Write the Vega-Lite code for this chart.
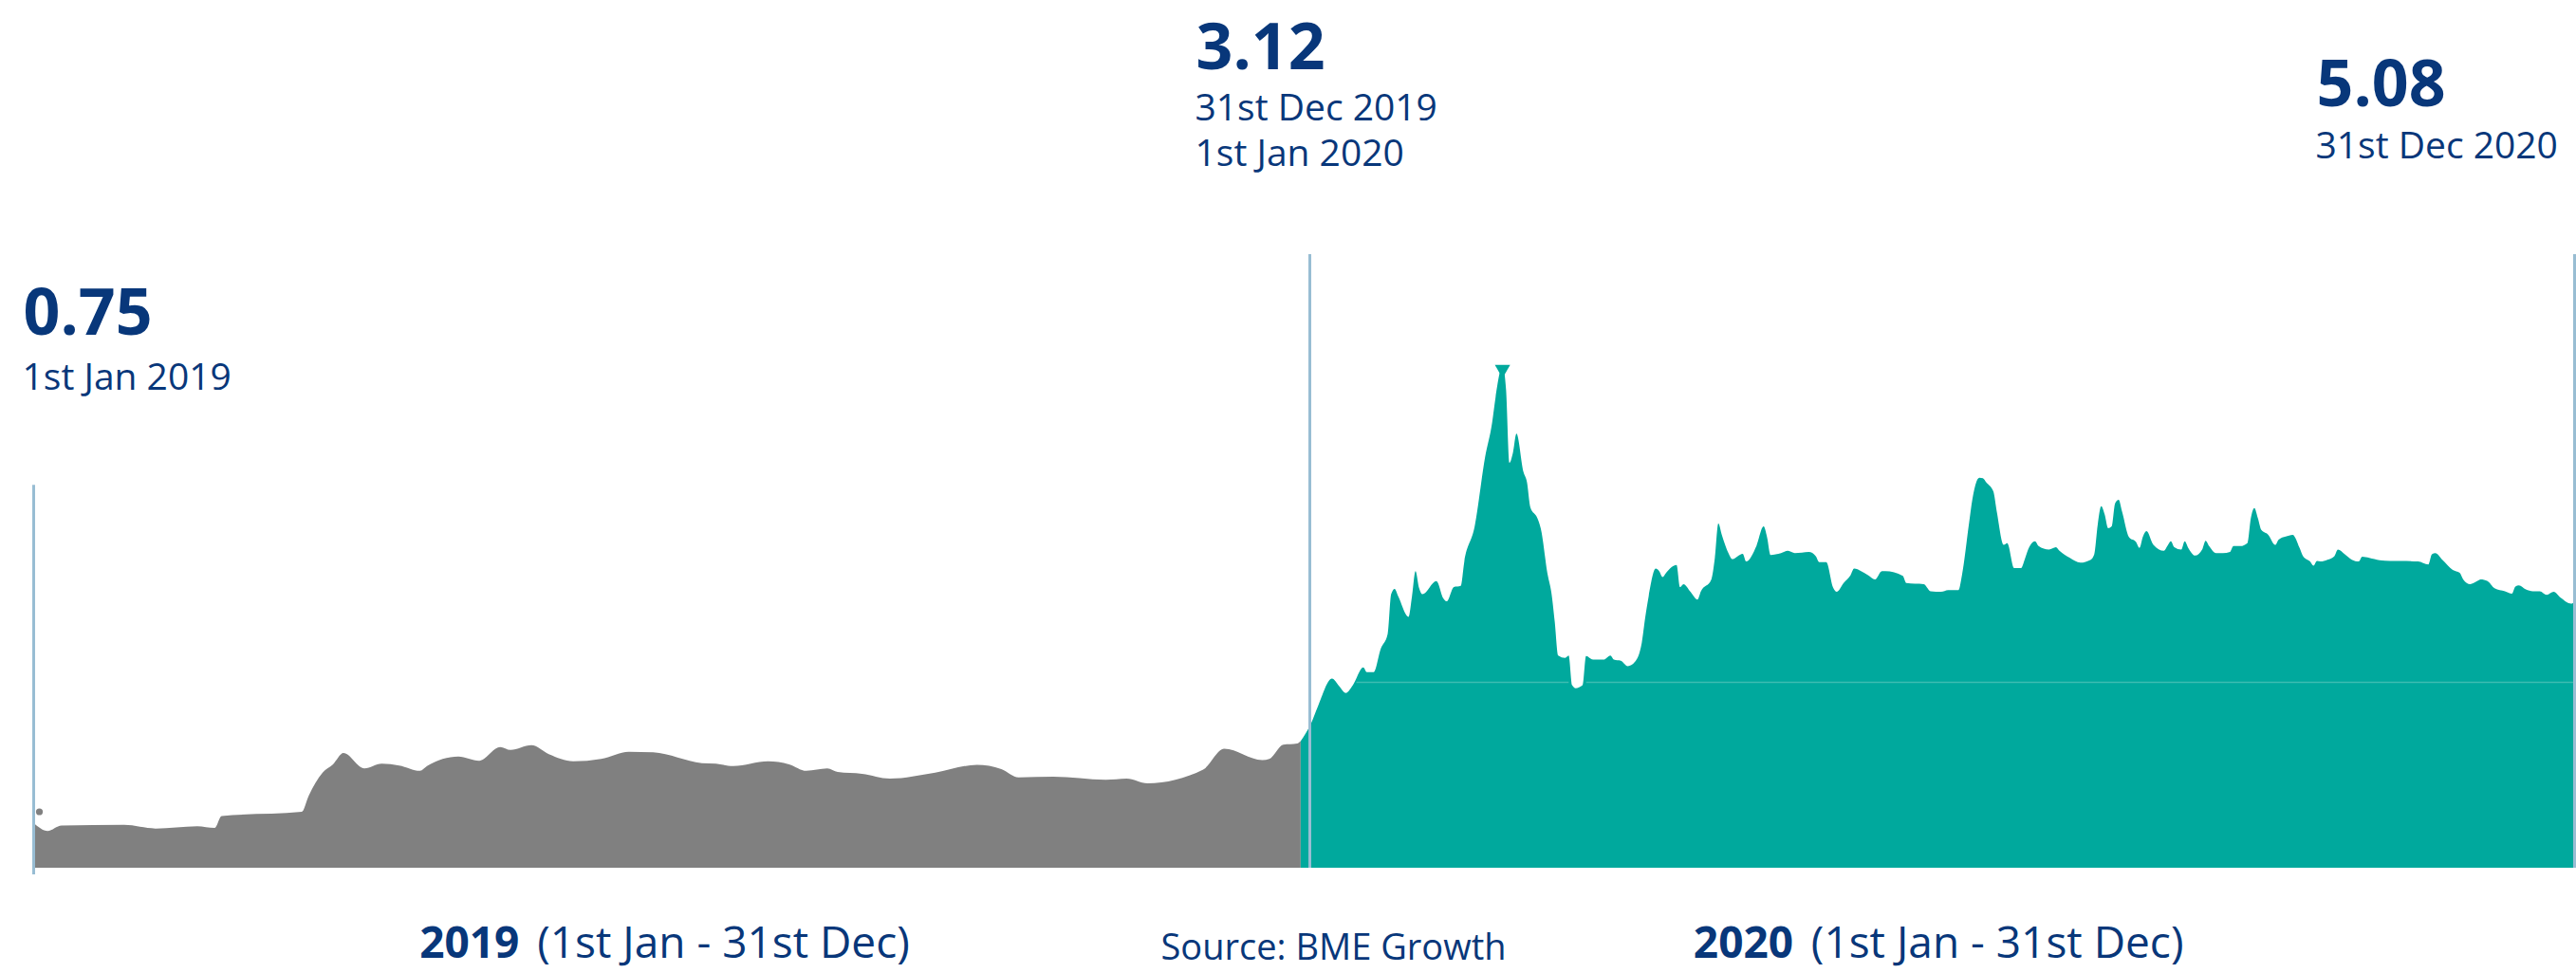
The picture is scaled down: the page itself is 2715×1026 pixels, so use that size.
{
  "$schema": "https://vega.github.io/schema/vega-lite/v6.json",
  "width": 2715,
  "height": 1026,
  "autosize": {"type": "fit", "contains": "padding"},
  "padding": 0,
  "background": "white",
  "config": {"view": {"stroke": null}},
  "datasets": {
    "prices": [
      {"date": "2019-01-01", "price": 0.75, "period": "2019"},
      {"date": "2019-01-05", "price": 0.62, "period": "2019"},
      {"date": "2019-01-09", "price": 0.71, "period": "2019"},
      {"date": "2019-01-27", "price": 0.72, "period": "2019"},
      {"date": "2019-02-05", "price": 0.66, "period": "2019"},
      {"date": "2019-02-17", "price": 0.70, "period": "2019"},
      {"date": "2019-02-22", "price": 0.67, "period": "2019"},
      {"date": "2019-02-24", "price": 0.87, "period": "2019"},
      {"date": "2019-03-19", "price": 0.94, "period": "2019"},
      {"date": "2019-03-21", "price": 1.21, "period": "2019"},
      {"date": "2019-03-25", "price": 1.60, "period": "2019"},
      {"date": "2019-03-28", "price": 1.74, "period": "2019"},
      {"date": "2019-03-31", "price": 1.93, "period": "2019"},
      {"date": "2019-04-06", "price": 1.67, "period": "2019"},
      {"date": "2019-04-11", "price": 1.75, "period": "2019"},
      {"date": "2019-04-16", "price": 1.72, "period": "2019"},
      {"date": "2019-04-22", "price": 1.63, "period": "2019"},
      {"date": "2019-04-24", "price": 1.71, "period": "2019"},
      {"date": "2019-05-03", "price": 1.87, "period": "2019"},
      {"date": "2019-05-09", "price": 1.80, "period": "2019"},
      {"date": "2019-05-15", "price": 2.03, "period": "2019"},
      {"date": "2019-05-18", "price": 1.98, "period": "2019"},
      {"date": "2019-05-24", "price": 2.06, "period": "2019"},
      {"date": "2019-05-29", "price": 1.91, "period": "2019"},
      {"date": "2019-06-05", "price": 1.79, "period": "2019"},
      {"date": "2019-06-13", "price": 1.83, "period": "2019"},
      {"date": "2019-06-21", "price": 1.95, "period": "2019"},
      {"date": "2019-06-28", "price": 1.94, "period": "2019"},
      {"date": "2019-07-12", "price": 1.76, "period": "2019"},
      {"date": "2019-07-16", "price": 1.75, "period": "2019"},
      {"date": "2019-07-21", "price": 1.71, "period": "2019"},
      {"date": "2019-07-31", "price": 1.79, "period": "2019"},
      {"date": "2019-08-06", "price": 1.74, "period": "2019"},
      {"date": "2019-08-11", "price": 1.63, "period": "2019"},
      {"date": "2019-08-17", "price": 1.67, "period": "2019"},
      {"date": "2019-08-20", "price": 1.61, "period": "2019"},
      {"date": "2019-08-27", "price": 1.58, "period": "2019"},
      {"date": "2019-09-04", "price": 1.50, "period": "2019"},
      {"date": "2019-09-17", "price": 1.60, "period": "2019"},
      {"date": "2019-09-29", "price": 1.73, "period": "2019"},
      {"date": "2019-10-06", "price": 1.66, "period": "2019"},
      {"date": "2019-10-11", "price": 1.52, "period": "2019"},
      {"date": "2019-10-21", "price": 1.53, "period": "2019"},
      {"date": "2019-11-05", "price": 1.48, "period": "2019"},
      {"date": "2019-11-11", "price": 1.50, "period": "2019"},
      {"date": "2019-11-17", "price": 1.42, "period": "2019"},
      {"date": "2019-12-03", "price": 1.65, "period": "2019"},
      {"date": "2019-12-09", "price": 2.00, "period": "2019"},
      {"date": "2019-12-20", "price": 1.81, "period": "2019"},
      {"date": "2019-12-22", "price": 1.83, "period": "2019"},
      {"date": "2019-12-26", "price": 2.07, "period": "2019"},
      {"date": "2019-12-30", "price": 2.09, "period": "2019"},
      {"date": "2019-12-31", "price": 2.13, "period": "2019"},
      {"date": "2019-12-31", "price": 2.13, "period": "2020"},
      {"date": "2020-01-03", "price": 2.43, "period": "2020"},
      {"date": "2020-01-05", "price": 2.72, "period": "2020"},
      {"date": "2020-01-09", "price": 3.18, "period": "2020"},
      {"date": "2020-01-11", "price": 3.06, "period": "2020"},
      {"date": "2020-01-13", "price": 2.94, "period": "2020"},
      {"date": "2020-01-15", "price": 3.07, "period": "2020"},
      {"date": "2020-01-18", "price": 3.37, "period": "2020"},
      {"date": "2020-01-19", "price": 3.29, "period": "2020"},
      {"date": "2020-01-21", "price": 3.29, "period": "2020"},
      {"date": "2020-01-23", "price": 3.68, "period": "2020"},
      {"date": "2020-01-25", "price": 3.93, "period": "2020"},
      {"date": "2020-01-26", "price": 4.60, "period": "2020"},
      {"date": "2020-01-27", "price": 4.69, "period": "2020"},
      {"date": "2020-01-28", "price": 4.57, "period": "2020"},
      {"date": "2020-01-31", "price": 4.22, "period": "2020"},
      {"date": "2020-02-01", "price": 4.57, "period": "2020"},
      {"date": "2020-02-02", "price": 4.99, "period": "2020"},
      {"date": "2020-02-03", "price": 4.71, "period": "2020"},
      {"date": "2020-02-04", "price": 4.60, "period": "2020"},
      {"date": "2020-02-08", "price": 4.82, "period": "2020"},
      {"date": "2020-02-10", "price": 4.53, "period": "2020"},
      {"date": "2020-02-11", "price": 4.48, "period": "2020"},
      {"date": "2020-02-13", "price": 4.72, "period": "2020"},
      {"date": "2020-02-15", "price": 4.74, "period": "2020"},
      {"date": "2020-02-16", "price": 5.14, "period": "2020"},
      {"date": "2020-02-19", "price": 5.74, "period": "2020"},
      {"date": "2020-02-22", "price": 6.91, "period": "2020"},
      {"date": "2020-02-24", "price": 7.48, "period": "2020"},
      {"date": "2020-02-25", "price": 7.91, "period": "2020"},
      {"date": "2020-02-27", "price": 8.44, "period": "2020"},
      {"date": "2020-02-28", "price": 8.05, "period": "2020"},
      {"date": "2020-02-29", "price": 6.81, "period": "2020"},
      {"date": "2020-03-01", "price": 6.98, "period": "2020"},
      {"date": "2020-03-02", "price": 7.30, "period": "2020"},
      {"date": "2020-03-04", "price": 6.66, "period": "2020"},
      {"date": "2020-03-05", "price": 6.49, "period": "2020"},
      {"date": "2020-03-06", "price": 6.06, "period": "2020"},
      {"date": "2020-03-08", "price": 5.88, "period": "2020"},
      {"date": "2020-03-09", "price": 5.70, "period": "2020"},
      {"date": "2020-03-11", "price": 4.92, "period": "2020"},
      {"date": "2020-03-12", "price": 4.64, "period": "2020"},
      {"date": "2020-03-13", "price": 4.14, "period": "2020"},
      {"date": "2020-03-14", "price": 3.57, "period": "2020"},
      {"date": "2020-03-16", "price": 3.53, "period": "2020"},
      {"date": "2020-03-17", "price": 3.57, "period": "2020"},
      {"date": "2020-03-18", "price": 3.07, "period": "2020"},
      {"date": "2020-03-19", "price": 3.02, "period": "2020"},
      {"date": "2020-03-21", "price": 3.07, "period": "2020"},
      {"date": "2020-03-22", "price": 3.56, "period": "2020"},
      {"date": "2020-03-24", "price": 3.50, "period": "2020"},
      {"date": "2020-03-27", "price": 3.50, "period": "2020"},
      {"date": "2020-03-29", "price": 3.57, "period": "2020"},
      {"date": "2020-03-30", "price": 3.50, "period": "2020"},
      {"date": "2020-04-01", "price": 3.48, "period": "2020"},
      {"date": "2020-04-03", "price": 3.39, "period": "2020"},
      {"date": "2020-04-05", "price": 3.46, "period": "2020"},
      {"date": "2020-04-07", "price": 3.78, "period": "2020"},
      {"date": "2020-04-08", "price": 4.21, "period": "2020"},
      {"date": "2020-04-09", "price": 4.57, "period": "2020"},
      {"date": "2020-04-11", "price": 5.03, "period": "2020"},
      {"date": "2020-04-12", "price": 4.99, "period": "2020"},
      {"date": "2020-04-13", "price": 4.89, "period": "2020"},
      {"date": "2020-04-14", "price": 4.96, "period": "2020"},
      {"date": "2020-04-17", "price": 5.09, "period": "2020"},
      {"date": "2020-04-18", "price": 4.72, "period": "2020"},
      {"date": "2020-04-19", "price": 4.77, "period": "2020"},
      {"date": "2020-04-21", "price": 4.64, "period": "2020"},
      {"date": "2020-04-23", "price": 4.51, "period": "2020"},
      {"date": "2020-04-24", "price": 4.65, "period": "2020"},
      {"date": "2020-04-27", "price": 4.85, "period": "2020"},
      {"date": "2020-04-28", "price": 5.21, "period": "2020"},
      {"date": "2020-04-29", "price": 5.79, "period": "2020"},
      {"date": "2020-04-30", "price": 5.60, "period": "2020"},
      {"date": "2020-05-02", "price": 5.28, "period": "2020"},
      {"date": "2020-05-03", "price": 5.19, "period": "2020"},
      {"date": "2020-05-06", "price": 5.28, "period": "2020"},
      {"date": "2020-05-07", "price": 5.15, "period": "2020"},
      {"date": "2020-05-10", "price": 5.42, "period": "2020"},
      {"date": "2020-05-12", "price": 5.74, "period": "2020"},
      {"date": "2020-05-13", "price": 5.56, "period": "2020"},
      {"date": "2020-05-14", "price": 5.26, "period": "2020"},
      {"date": "2020-05-17", "price": 5.29, "period": "2020"},
      {"date": "2020-05-19", "price": 5.33, "period": "2020"},
      {"date": "2020-05-21", "price": 5.29, "period": "2020"},
      {"date": "2020-05-25", "price": 5.31, "period": "2020"},
      {"date": "2020-05-27", "price": 5.24, "period": "2020"},
      {"date": "2020-05-28", "price": 5.14, "period": "2020"},
      {"date": "2020-05-30", "price": 5.14, "period": "2020"},
      {"date": "2020-06-01", "price": 4.71, "period": "2020"},
      {"date": "2020-06-02", "price": 4.64, "period": "2020"},
      {"date": "2020-06-04", "price": 4.79, "period": "2020"},
      {"date": "2020-06-06", "price": 4.92, "period": "2020"},
      {"date": "2020-06-07", "price": 5.03, "period": "2020"},
      {"date": "2020-06-09", "price": 4.99, "period": "2020"},
      {"date": "2020-06-11", "price": 4.92, "period": "2020"},
      {"date": "2020-06-13", "price": 4.85, "period": "2020"},
      {"date": "2020-06-15", "price": 4.99, "period": "2020"},
      {"date": "2020-06-16", "price": 4.99, "period": "2020"},
      {"date": "2020-06-21", "price": 4.91, "period": "2020"},
      {"date": "2020-06-22", "price": 4.79, "period": "2020"},
      {"date": "2020-06-27", "price": 4.77, "period": "2020"},
      {"date": "2020-06-29", "price": 4.65, "period": "2020"},
      {"date": "2020-07-02", "price": 4.64, "period": "2020"},
      {"date": "2020-07-04", "price": 4.67, "period": "2020"},
      {"date": "2020-07-07", "price": 4.67, "period": "2020"},
      {"date": "2020-07-08", "price": 4.92, "period": "2020"},
      {"date": "2020-07-10", "price": 5.78, "period": "2020"},
      {"date": "2020-07-11", "price": 6.20, "period": "2020"},
      {"date": "2020-07-13", "price": 6.56, "period": "2020"},
      {"date": "2020-07-14", "price": 6.55, "period": "2020"},
      {"date": "2020-07-15", "price": 6.48, "period": "2020"},
      {"date": "2020-07-17", "price": 6.33, "period": "2020"},
      {"date": "2020-07-18", "price": 5.99, "period": "2020"},
      {"date": "2020-07-20", "price": 5.43, "period": "2020"},
      {"date": "2020-07-21", "price": 5.46, "period": "2020"},
      {"date": "2020-07-23", "price": 5.04, "period": "2020"},
      {"date": "2020-07-25", "price": 5.04, "period": "2020"},
      {"date": "2020-07-26", "price": 5.18, "period": "2020"},
      {"date": "2020-07-27", "price": 5.35, "period": "2020"},
      {"date": "2020-07-29", "price": 5.49, "period": "2020"},
      {"date": "2020-07-30", "price": 5.41, "period": "2020"},
      {"date": "2020-08-02", "price": 5.35, "period": "2020"},
      {"date": "2020-08-04", "price": 5.39, "period": "2020"},
      {"date": "2020-08-05", "price": 5.33, "period": "2020"},
      {"date": "2020-08-08", "price": 5.21, "period": "2020"},
      {"date": "2020-08-11", "price": 5.13, "period": "2020"},
      {"date": "2020-08-14", "price": 5.18, "period": "2020"},
      {"date": "2020-08-15", "price": 5.27, "period": "2020"},
      {"date": "2020-08-16", "price": 5.77, "period": "2020"},
      {"date": "2020-08-17", "price": 6.08, "period": "2020"},
      {"date": "2020-08-18", "price": 5.94, "period": "2020"},
      {"date": "2020-08-19", "price": 5.71, "period": "2020"},
      {"date": "2020-08-20", "price": 5.74, "period": "2020"},
      {"date": "2020-08-21", "price": 6.13, "period": "2020"},
      {"date": "2020-08-22", "price": 6.19, "period": "2020"},
      {"date": "2020-08-23", "price": 5.99, "period": "2020"},
      {"date": "2020-08-25", "price": 5.56, "period": "2020"},
      {"date": "2020-08-27", "price": 5.48, "period": "2020"},
      {"date": "2020-08-28", "price": 5.38, "period": "2020"},
      {"date": "2020-08-29", "price": 5.57, "period": "2020"},
      {"date": "2020-08-30", "price": 5.66, "period": "2020"},
      {"date": "2020-09-01", "price": 5.43, "period": "2020"},
      {"date": "2020-09-04", "price": 5.33, "period": "2020"},
      {"date": "2020-09-05", "price": 5.41, "period": "2020"},
      {"date": "2020-09-06", "price": 5.49, "period": "2020"},
      {"date": "2020-09-07", "price": 5.39, "period": "2020"},
      {"date": "2020-09-09", "price": 5.35, "period": "2020"},
      {"date": "2020-09-10", "price": 5.49, "period": "2020"},
      {"date": "2020-09-11", "price": 5.38, "period": "2020"},
      {"date": "2020-09-13", "price": 5.25, "period": "2020"},
      {"date": "2020-09-15", "price": 5.35, "period": "2020"},
      {"date": "2020-09-16", "price": 5.50, "period": "2020"},
      {"date": "2020-09-17", "price": 5.41, "period": "2020"},
      {"date": "2020-09-19", "price": 5.29, "period": "2020"},
      {"date": "2020-09-21", "price": 5.29, "period": "2020"},
      {"date": "2020-09-23", "price": 5.31, "period": "2020"},
      {"date": "2020-09-24", "price": 5.41, "period": "2020"},
      {"date": "2020-09-26", "price": 5.41, "period": "2020"},
      {"date": "2020-09-28", "price": 5.46, "period": "2020"},
      {"date": "2020-09-29", "price": 5.88, "period": "2020"},
      {"date": "2020-09-30", "price": 6.05, "period": "2020"},
      {"date": "2020-10-01", "price": 5.88, "period": "2020"},
      {"date": "2020-10-02", "price": 5.68, "period": "2020"},
      {"date": "2020-10-04", "price": 5.60, "period": "2020"},
      {"date": "2020-10-06", "price": 5.43, "period": "2020"},
      {"date": "2020-10-07", "price": 5.52, "period": "2020"},
      {"date": "2020-10-09", "price": 5.57, "period": "2020"},
      {"date": "2020-10-11", "price": 5.60, "period": "2020"},
      {"date": "2020-10-13", "price": 5.38, "period": "2020"},
      {"date": "2020-10-14", "price": 5.24, "period": "2020"},
      {"date": "2020-10-16", "price": 5.15, "period": "2020"},
      {"date": "2020-10-17", "price": 5.08, "period": "2020"},
      {"date": "2020-10-18", "price": 5.16, "period": "2020"},
      {"date": "2020-10-19", "price": 5.15, "period": "2020"},
      {"date": "2020-10-21", "price": 5.18, "period": "2020"},
      {"date": "2020-10-23", "price": 5.24, "period": "2020"},
      {"date": "2020-10-24", "price": 5.35, "period": "2020"},
      {"date": "2020-10-26", "price": 5.27, "period": "2020"},
      {"date": "2020-10-28", "price": 5.18, "period": "2020"},
      {"date": "2020-10-30", "price": 5.15, "period": "2020"},
      {"date": "2020-10-31", "price": 5.23, "period": "2020"},
      {"date": "2020-11-02", "price": 5.21, "period": "2020"},
      {"date": "2020-11-05", "price": 5.17, "period": "2020"},
      {"date": "2020-11-08", "price": 5.16, "period": "2020"},
      {"date": "2020-11-11", "price": 5.16, "period": "2020"},
      {"date": "2020-11-16", "price": 5.15, "period": "2020"},
      {"date": "2020-11-19", "price": 5.10, "period": "2020"},
      {"date": "2020-11-20", "price": 5.27, "period": "2020"},
      {"date": "2020-11-21", "price": 5.29, "period": "2020"},
      {"date": "2020-11-23", "price": 5.18, "period": "2020"},
      {"date": "2020-11-26", "price": 5.01, "period": "2020"},
      {"date": "2020-11-28", "price": 4.96, "period": "2020"},
      {"date": "2020-11-29", "price": 4.85, "period": "2020"},
      {"date": "2020-12-01", "price": 4.77, "period": "2020"},
      {"date": "2020-12-03", "price": 4.82, "period": "2020"},
      {"date": "2020-12-04", "price": 4.85, "period": "2020"},
      {"date": "2020-12-06", "price": 4.82, "period": "2020"},
      {"date": "2020-12-08", "price": 4.70, "period": "2020"},
      {"date": "2020-12-11", "price": 4.65, "period": "2020"},
      {"date": "2020-12-13", "price": 4.61, "period": "2020"},
      {"date": "2020-12-14", "price": 4.73, "period": "2020"},
      {"date": "2020-12-15", "price": 4.75, "period": "2020"},
      {"date": "2020-12-17", "price": 4.68, "period": "2020"},
      {"date": "2020-12-19", "price": 4.65, "period": "2020"},
      {"date": "2020-12-21", "price": 4.65, "period": "2020"},
      {"date": "2020-12-23", "price": 4.59, "period": "2020"},
      {"date": "2020-12-25", "price": 4.64, "period": "2020"},
      {"date": "2020-12-27", "price": 4.54, "period": "2020"},
      {"date": "2020-12-30", "price": 4.44, "period": "2020"},
      {"date": "2020-12-31", "price": 4.46, "period": "2020"}
    ],
    "milestones": [
      {"key": "start", "date": "2019-01-01", "price": 0.75, "note": "1st Jan 2019"},
      {"key": "change", "date": "2020-01-01", "price": 3.12, "note": ["31st Dec 2019", "1st Jan 2020"]},
      {"key": "end", "date": "2020-12-31", "price": 5.08, "note": "31st Dec 2020"}
    ],
    "periods": [
      {"year": "2019", "date": "2019-07-02", "range": "(1st Jan - 31st Dec)"},
      {"year": "2020", "date": "2020-07-02", "range": "(1st Jan - 31st Dec)"}
    ],
    "source": [
      {"date": "2020-01-01", "note": "Source: BME Growth"}
    ]
  },
  "layer": [
    {
      "data": {"name": "prices"},
      "mark": {"type": "area", "interpolate": "monotone"},
      "encoding": {
        "x": {"field": "date", "type": "temporal", "axis": null, "scale": {"domain": [{"year": 2018, "month": 12, "date": 22, "hours": 7, "minutes": 45, "utc": true}, {"year": 2020, "month": 12, "date": 31, "hours": 9, "minutes": 49, "utc": true}], "nice": false}},
        "y": {"field": "price", "type": "quantitative", "stack": null, "axis": null, "scale": {"domain": [-1.77, 14.593], "nice": false, "zero": false}},
        "color": {"field": "period", "type": "nominal", "legend": null, "scale": {"domain": ["2019", "2020"], "range": ["#808080", "#00a99d"]}}
      }
    },
    {
      "data": {"values": [
        {"date": "2020-01-16", "end": "2020-03-17", "price": 3.12},
        {"date": "2020-03-22", "end": "2020-12-31", "price": 3.12}
      ], "format": {"parse": {"date": "date", "end": "date"}}},
      "mark": {"type": "rule", "color": "#3dbdb2", "strokeWidth": 1.5},
      "encoding": {
        "x": {"field": "date", "type": "temporal", "axis": null, "scale": {"domain": [{"year": 2018, "month": 12, "date": 22, "hours": 7, "minutes": 45, "utc": true}, {"year": 2020, "month": 12, "date": 31, "hours": 9, "minutes": 49, "utc": true}], "nice": false}},
        "x2": {"field": "end"},
        "y": {"field": "price", "type": "quantitative", "axis": null, "scale": {"domain": [-1.77, 14.593], "nice": false, "zero": false}}
      }
    },
    {
      "data": {"name": "milestones"},
      "transform": [{"filter": {"field": "key", "equal": "start"}}],
      "mark": {"type": "rule", "color": "#98bdd3", "strokeWidth": 3},
      "encoding": {
        "x": {"field": "date", "type": "temporal", "axis": null, "scale": {"domain": [{"year": 2018, "month": 12, "date": 22, "hours": 7, "minutes": 45, "utc": true}, {"year": 2020, "month": 12, "date": 31, "hours": 9, "minutes": 49, "utc": true}], "nice": false}},
        "y": {"datum": 6.44, "type": "quantitative", "axis": null, "scale": {"domain": [-1.77, 14.593], "nice": false, "zero": false}},
        "y2": {"datum": -0.11}
      }
    },
    {
      "data": {"name": "milestones"},
      "transform": [{"filter": {"field": "key", "equal": "change"}}],
      "mark": {"type": "rule", "color": "#98bdd3", "strokeWidth": 3, "xOffset": 6},
      "encoding": {
        "x": {"field": "date", "type": "temporal", "axis": null, "scale": {"domain": [{"year": 2018, "month": 12, "date": 22, "hours": 7, "minutes": 45, "utc": true}, {"year": 2020, "month": 12, "date": 31, "hours": 9, "minutes": 49, "utc": true}], "nice": false}},
        "y": {"datum": 10.32, "type": "quantitative", "axis": null, "scale": {"domain": [-1.77, 14.593], "nice": false, "zero": false}},
        "y2": {"datum": 0}
      }
    },
    {
      "data": {"name": "milestones"},
      "transform": [{"filter": {"field": "key", "equal": "end"}}],
      "mark": {"type": "rule", "color": "#98bdd3", "strokeWidth": 3},
      "encoding": {
        "x": {"field": "date", "type": "temporal", "axis": null, "scale": {"domain": [{"year": 2018, "month": 12, "date": 22, "hours": 7, "minutes": 45, "utc": true}, {"year": 2020, "month": 12, "date": 31, "hours": 9, "minutes": 49, "utc": true}], "nice": false}},
        "y": {"datum": 10.32, "type": "quantitative", "axis": null, "scale": {"domain": [-1.77, 14.593], "nice": false, "zero": false}},
        "y2": {"datum": 0}
      }
    },
    {
      "data": {"name": "milestones"},
      "transform": [{"filter": {"field": "key", "equal": "start"}}],
      "mark": {"type": "point", "filled": true, "opacity": 1, "size": 52, "color": "#808080", "xOffset": 6, "yOffset": -12},
      "encoding": {
        "x": {"field": "date", "type": "temporal", "axis": null, "scale": {"domain": [{"year": 2018, "month": 12, "date": 22, "hours": 7, "minutes": 45, "utc": true}, {"year": 2020, "month": 12, "date": 31, "hours": 9, "minutes": 49, "utc": true}], "nice": false}},
        "y": {"field": "price", "type": "quantitative", "axis": null, "scale": {"domain": [-1.77, 14.593], "nice": false, "zero": false}}
      }
    },
    {
      "data": {"name": "prices"},
      "transform": [{"filter": {"field": "price", "gte": 8.4}}],
      "mark": {"type": "point", "shape": "triangle-down", "filled": true, "opacity": 1, "size": 260, "color": "#00a99d", "yOffset": 6},
      "encoding": {
        "x": {"field": "date", "type": "temporal", "axis": null, "scale": {"domain": [{"year": 2018, "month": 12, "date": 22, "hours": 7, "minutes": 45, "utc": true}, {"year": 2020, "month": 12, "date": 31, "hours": 9, "minutes": 49, "utc": true}], "nice": false}},
        "y": {"field": "price", "type": "quantitative", "axis": null, "scale": {"domain": [-1.77, 14.593], "nice": false, "zero": false}}
      }
    },
    {
      "data": {"name": "milestones"},
      "transform": [{"filter": {"field": "key", "equal": "start"}}],
      "mark": {"type": "text", "font": "Open Sans", "fontWeight": 700, "fontSize": 68, "color": "#08377a", "align": "left", "baseline": "alphabetic", "dx": -11},
      "encoding": {
        "x": {"field": "date", "type": "temporal", "axis": null, "scale": {"domain": [{"year": 2018, "month": 12, "date": 22, "hours": 7, "minutes": 45, "utc": true}, {"year": 2020, "month": 12, "date": 31, "hours": 9, "minutes": 49, "utc": true}], "nice": false}},
        "y": {"datum": 8.963, "type": "quantitative", "axis": null, "scale": {"domain": [-1.77, 14.593], "nice": false, "zero": false}},
        "text": {"field": "price", "type": "quantitative", "format": ".2f"}
      }
    },
    {
      "data": {"name": "milestones"},
      "transform": [{"filter": {"field": "key", "equal": "start"}}],
      "mark": {"type": "text", "font": "Open Sans", "fontWeight": 400, "fontSize": 39, "color": "#08377a", "align": "left", "baseline": "alphabetic", "dx": -12},
      "encoding": {
        "x": {"field": "date", "type": "temporal", "axis": null, "scale": {"domain": [{"year": 2018, "month": 12, "date": 22, "hours": 7, "minutes": 45, "utc": true}, {"year": 2020, "month": 12, "date": 31, "hours": 9, "minutes": 49, "utc": true}], "nice": false}},
        "y": {"datum": 8.038, "type": "quantitative", "axis": null, "scale": {"domain": [-1.77, 14.593], "nice": false, "zero": false}},
        "text": {"field": "note", "type": "nominal"}
      }
    },
    {
      "data": {"name": "milestones"},
      "transform": [{"filter": {"field": "key", "equal": "change"}}],
      "mark": {"type": "text", "font": "Open Sans", "fontWeight": 700, "fontSize": 68, "color": "#08377a", "align": "left", "baseline": "alphabetic", "dx": -114},
      "encoding": {
        "x": {"field": "date", "type": "temporal", "axis": null, "scale": {"domain": [{"year": 2018, "month": 12, "date": 22, "hours": 7, "minutes": 45, "utc": true}, {"year": 2020, "month": 12, "date": 31, "hours": 9, "minutes": 49, "utc": true}], "nice": false}},
        "y": {"datum": 13.429, "type": "quantitative", "axis": null, "scale": {"domain": [-1.77, 14.593], "nice": false, "zero": false}},
        "text": {"field": "price", "type": "quantitative", "format": ".2f"}
      }
    },
    {
      "data": {"name": "milestones"},
      "transform": [{"filter": {"field": "key", "equal": "change"}}],
      "mark": {"type": "text", "font": "Open Sans", "fontWeight": 400, "fontSize": 39, "lineHeight": 48, "color": "#08377a", "align": "left", "baseline": "alphabetic", "dx": -115},
      "encoding": {
        "x": {"field": "date", "type": "temporal", "axis": null, "scale": {"domain": [{"year": 2018, "month": 12, "date": 22, "hours": 7, "minutes": 45, "utc": true}, {"year": 2020, "month": 12, "date": 31, "hours": 9, "minutes": 49, "utc": true}], "nice": false}},
        "y": {"datum": 12.568, "type": "quantitative", "axis": null, "scale": {"domain": [-1.77, 14.593], "nice": false, "zero": false}},
        "text": {"field": "note", "type": "nominal"}
      }
    },
    {
      "data": {"name": "milestones"},
      "transform": [{"filter": {"field": "key", "equal": "end"}}],
      "mark": {"type": "text", "font": "Open Sans", "fontWeight": 700, "fontSize": 68, "color": "#08377a", "align": "left", "baseline": "alphabetic", "dx": -272},
      "encoding": {
        "x": {"field": "date", "type": "temporal", "axis": null, "scale": {"domain": [{"year": 2018, "month": 12, "date": 22, "hours": 7, "minutes": 45, "utc": true}, {"year": 2020, "month": 12, "date": 31, "hours": 9, "minutes": 49, "utc": true}], "nice": false}},
        "y": {"datum": 12.807, "type": "quantitative", "axis": null, "scale": {"domain": [-1.77, 14.593], "nice": false, "zero": false}},
        "text": {"field": "price", "type": "quantitative", "format": ".2f"}
      }
    },
    {
      "data": {"name": "milestones"},
      "transform": [{"filter": {"field": "key", "equal": "end"}}],
      "mark": {"type": "text", "font": "Open Sans", "fontWeight": 400, "fontSize": 39, "color": "#08377a", "align": "left", "baseline": "alphabetic", "dx": -273},
      "encoding": {
        "x": {"field": "date", "type": "temporal", "axis": null, "scale": {"domain": [{"year": 2018, "month": 12, "date": 22, "hours": 7, "minutes": 45, "utc": true}, {"year": 2020, "month": 12, "date": 31, "hours": 9, "minutes": 49, "utc": true}], "nice": false}},
        "y": {"datum": 11.93, "type": "quantitative", "axis": null, "scale": {"domain": [-1.77, 14.593], "nice": false, "zero": false}},
        "text": {"field": "note", "type": "nominal"}
      }
    },
    {
      "data": {"name": "periods"},
      "mark": {"type": "text", "font": "Open Sans", "fontWeight": 700, "fontSize": 46, "color": "#08377a", "align": "left", "baseline": "alphabetic", "dx": -261},
      "encoding": {
        "x": {"field": "date", "type": "temporal", "axis": null, "scale": {"domain": [{"year": 2018, "month": 12, "date": 22, "hours": 7, "minutes": 45, "utc": true}, {"year": 2020, "month": 12, "date": 31, "hours": 9, "minutes": 49, "utc": true}], "nice": false}},
        "y": {"datum": -1.515, "type": "quantitative", "axis": null, "scale": {"domain": [-1.77, 14.593], "nice": false, "zero": false}},
        "text": {"field": "year", "type": "nominal"}
      }
    },
    {
      "data": {"name": "periods"},
      "mark": {"type": "text", "font": "Open Sans", "fontWeight": 400, "fontSize": 46, "color": "#08377a", "align": "left", "baseline": "alphabetic", "dx": -137},
      "encoding": {
        "x": {"field": "date", "type": "temporal", "axis": null, "scale": {"domain": [{"year": 2018, "month": 12, "date": 22, "hours": 7, "minutes": 45, "utc": true}, {"year": 2020, "month": 12, "date": 31, "hours": 9, "minutes": 49, "utc": true}], "nice": false}},
        "y": {"datum": -1.515, "type": "quantitative", "axis": null, "scale": {"domain": [-1.77, 14.593], "nice": false, "zero": false}},
        "text": {"field": "range", "type": "nominal"}
      }
    },
    {
      "data": {"name": "source"},
      "mark": {"type": "text", "font": "Open Sans", "fontWeight": 400, "fontSize": 38, "color": "#08377a", "align": "center", "baseline": "alphabetic", "dx": 31},
      "encoding": {
        "x": {"field": "date", "type": "temporal", "axis": null, "scale": {"domain": [{"year": 2018, "month": 12, "date": 22, "hours": 7, "minutes": 45, "utc": true}, {"year": 2020, "month": 12, "date": 31, "hours": 9, "minutes": 49, "utc": true}], "nice": false}},
        "y": {"datum": -1.547, "type": "quantitative", "axis": null, "scale": {"domain": [-1.77, 14.593], "nice": false, "zero": false}},
        "text": {"field": "note", "type": "nominal"}
      }
    }
  ]
}
